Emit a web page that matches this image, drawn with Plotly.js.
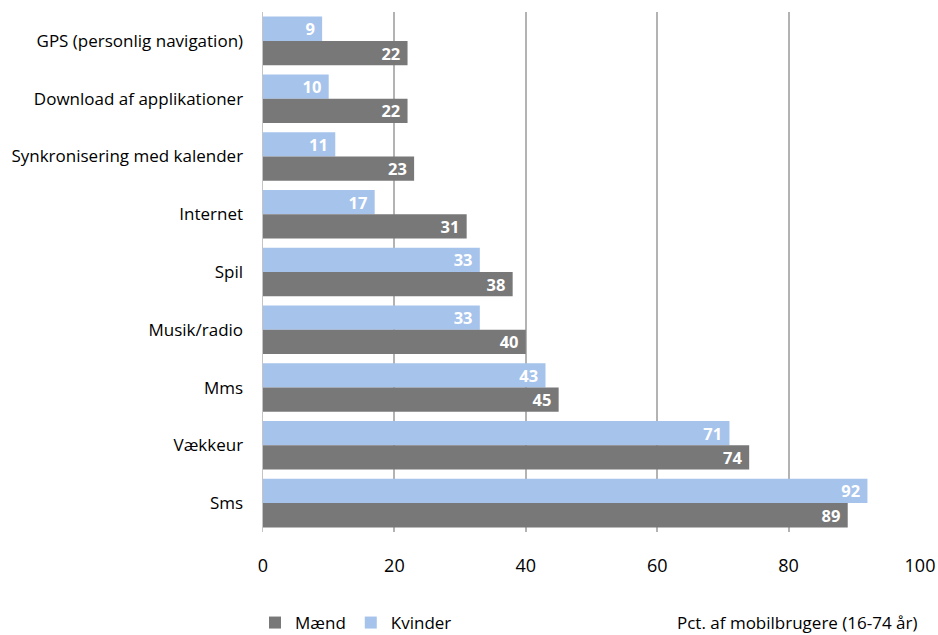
<!DOCTYPE html>
<html>
<head>
<meta charset="utf-8">
<script src="https://cdn.plot.ly/plotly-3.0.1.min.js"></script>
<style>html,body{margin:0;padding:0;background:#fff;}#chart{width:938px;height:635px;}</style>
</head>
<body>
<div id="chart"></div>
<script>
const categories = ["GPS (personlig navigation)", "Download af applikationer", "Synkronisering med kalender", "Internet", "Spil", "Musik/radio", "Mms", "Vækkeur", "Sms"];
const kvinder = [9, 10, 11, 17, 33, 33, 43, 71, 92];
const maend = [22, 22, 23, 31, 38, 40, 45, 74, 89];
const xTicks = [0, 20, 40, 60, 80, 100];

const font = "Open Sans, Noto Sans, sans-serif";

const traces = [
  {
    type: "bar", orientation: "h", name: "Kvinder",
    y: categories, x: kvinder, texttemplate: "%{x}\u00a0",
    textposition: "inside", insidetextanchor: "end", textangle: 0, constraintext: "none",
    textfont: {family: font, size: 16.5, color: "#ffffff", weight: "bold"},
    marker: {color: "#a6c3ec"}, legendrank: 2,
    hoverinfo: "x+name"
  },
  {
    type: "bar", orientation: "h", name: "Mænd",
    y: categories, x: maend, texttemplate: "%{x}\u00a0",
    textposition: "inside", insidetextanchor: "end", textangle: 0, constraintext: "none",
    textfont: {family: font, size: 16.5, color: "#ffffff", weight: "bold"},
    marker: {color: "#787878"}, legendrank: 1,
    hoverinfo: "x+name"
  }
];

const layout = {
  width: 938, height: 635,
  margin: {l: 263, r: 18, t: 12, b: 103, autoexpand: false},
  paper_bgcolor: "#fff", plot_bgcolor: "#fff",
  barmode: "group", bargap: 0.16, bargroupgap: 0,
  uniformtext: {mode: false},
  font: {family: font, size: 17, color: "#000"},
  xaxis: {
    range: [0, 100], tickvals: xTicks, ticktext: xTicks.map(String),
    showgrid: true, gridcolor: "#b3b3b3", gridwidth: 2,
    zeroline: false, showline: false, ticks: "",
    tickfont: {family: font, size: 18, color: "#000"}, ticklabelstandoff: 21,
    fixedrange: true, automargin: false
  },
  yaxis: {
    autorange: "reversed", type: "category",
    showline: true, linecolor: "#c4c4c4", linewidth: 1.5,
    ticks: "", showgrid: false,
    tickfont: {family: font, size: 17, color: "#000"}, ticklabelstandoff: 15,
    fixedrange: true, automargin: false
  },
  showlegend: true,
  legend: {
    orientation: "h", xanchor: "left", yanchor: "middle",
    font: {family: font, size: 17, color: "#000"},
    tracegroupgap: 0
  },
  annotations: [{
    text: "Pct. af mobilbrugere (16-74 år)",
    xref: "paper", yref: "paper", x: 1, y: 0, xanchor: "right", yanchor: "middle",
    yshift: -90, showarrow: false,
    font: {family: font, size: 17, color: "#000"}
  }]
};
const plotW = 938 - 263 - 18, plotH = 635 - 12 - 103;
layout.legend.x = (255 - 263) / plotW;
layout.legend.y = -(623 - 12 - plotH) / plotH;

Plotly.newPlot("chart", traces, layout, {displayModeBar: false, staticPlot: true});
</script>
</body>
</html>
